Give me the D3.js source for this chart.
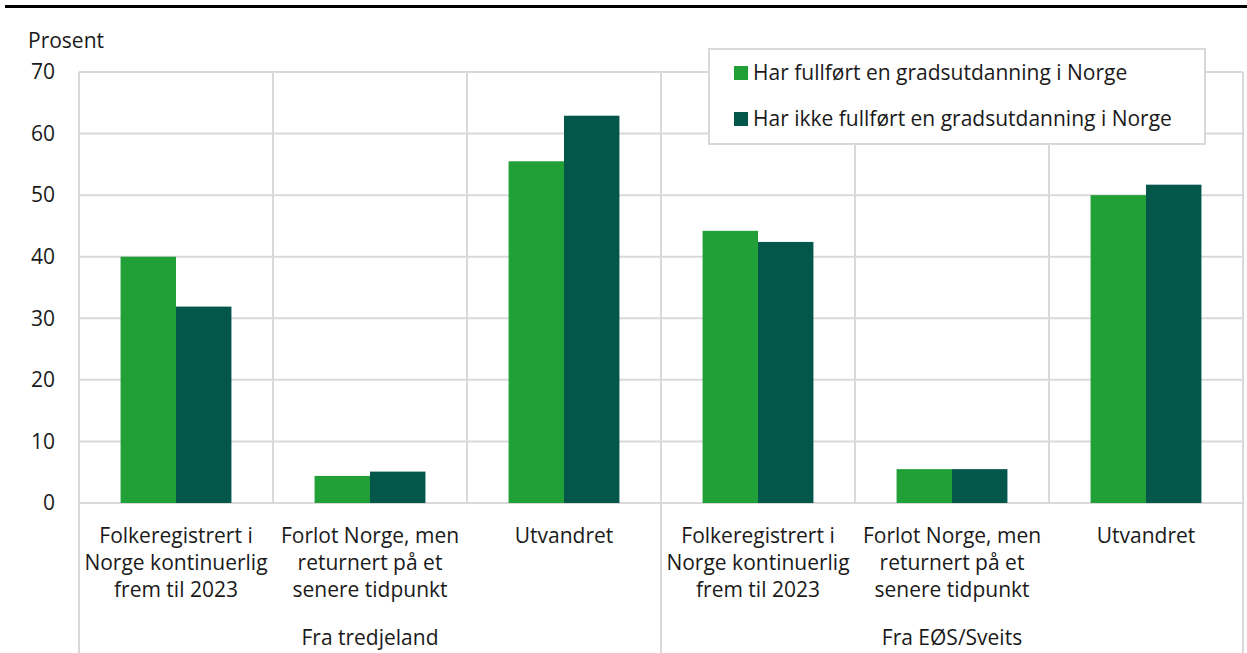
<!DOCTYPE html>
<html>
<head>
<meta charset="utf-8">
<script src="https://cdn.jsdelivr.net/npm/d3@7"></script>
<style>
  body { margin: 0; background: #fff; }
  text { font-family: "Open Sans", "Noto Sans", sans-serif; fill: #1a1a1a; }
</style>
</head>
<body>
<div id="chart"></div>
<script>
var svgWidth = 1247;
var svgHeight = 653;

// data
var groups = ["Fra tredjeland", "Fra EØS/Sveits"];
var categories = [
  ["Folkeregistrert i", "Norge kontinuerlig", "frem til 2023"],
  ["Forlot Norge, men", "returnert på et", "senere tidpunkt"],
  ["Utvandret"]
];
var seriesNames = ["Har fullført en gradsutdanning i Norge", "Har ikke fullført en gradsutdanning i Norge"];
var fullfort = [40.0, 4.4, 55.5, 44.2, 5.5, 50.0];
var ikkeFullfort = [31.9, 5.1, 62.9, 42.4, 5.5, 51.7];
var yTicks = [0, 10, 20, 30, 40, 50, 60, 70];

var colors = ["#21a038", "#03574a"];
var gridColor = "#d9d9d9";
var fontSize = "21px";

var plot = { left: 79, right: 1243, top: 72, bottom: 503 };

var svg = d3.select("#chart")
  .append("svg")
  .attr("width", svgWidth)
  .attr("height", svgHeight);

// top rule
svg.append("rect")
  .attr("x", 5).attr("y", 5)
  .attr("width", svgWidth - 5).attr("height", 3)
  .attr("fill", "#000");

// build rows: one per bar pair
var rows = [];
groups.forEach(function(g, gi) {
  categories.forEach(function(c, ci) {
    var i = gi * categories.length + ci;
    rows.push({ id: i, group: g, lines: c, values: [fullfort[i], ikkeFullfort[i]] });
  });
});

var x0 = d3.scaleBand()
  .domain(rows.map(d => d.id))
  .range([plot.left, plot.right])
  .padding(0);

var x1 = d3.scaleBand()
  .domain([0, 1])
  .range([0, x0.bandwidth()])
  .paddingInner(0)
  .paddingOuter(0.75);

var y = d3.scaleLinear()
  .domain([0, 70])
  .range([plot.bottom, plot.top]);

// horizontal gridlines
svg.append("g")
  .selectAll("line")
  .data(yTicks)
  .enter()
  .append("line")
  .attr("x1", plot.left)
  .attr("x2", plot.right)
  .attr("y1", d => y(d))
  .attr("y2", d => y(d))
  .attr("stroke", gridColor)
  .attr("stroke-width", 2);

// vertical gridlines at category boundaries
var bounds = rows.map(d => x0(d.id)).concat([plot.right]);
svg.append("g")
  .selectAll("line")
  .data(bounds)
  .enter()
  .append("line")
  .attr("x1", d => d)
  .attr("x2", d => d)
  .attr("y1", plot.top)
  .attr("y2", (d, i) => (i % categories.length === 0) ? svgHeight : plot.bottom)
  .attr("stroke", gridColor)
  .attr("stroke-width", 2);

// y tick labels
svg.append("g")
  .selectAll("text")
  .data(yTicks)
  .enter()
  .append("text")
  .attr("x", 55)
  .attr("y", d => y(d))
  .attr("dy", "0.35em")
  .attr("text-anchor", "end")
  .style("font-size", fontSize)
  .text(d => d);

svg.append("text")
  .attr("x", 28)
  .attr("y", 48)
  .style("font-size", fontSize)
  .text("Prosent");

// bars
var barGroups = svg.append("g")
  .selectAll("g")
  .data(rows)
  .enter()
  .append("g")
  .attr("transform", d => `translate(${x0(d.id)},0)`);

barGroups.selectAll("rect")
  .data(d => d.values.map((v, k) => ({ k: k, v: v })))
  .enter()
  .append("rect")
  .attr("x", d => x1(d.k))
  .attr("width", x1.bandwidth())
  .attr("y", d => y(d.v))
  .attr("height", d => y(0) - y(d.v))
  .attr("fill", d => colors[d.k]);

// category labels
var catLabels = svg.append("g")
  .selectAll("text")
  .data(rows)
  .enter()
  .append("text")
  .attr("x", d => x0(d.id) + x0.bandwidth() / 2)
  .attr("y", 543)
  .attr("text-anchor", "middle")
  .style("font-size", fontSize);

catLabels.selectAll("tspan")
  .data(d => d.lines)
  .enter()
  .append("tspan")
  .attr("x", function() { return d3.select(this.parentNode).attr("x"); })
  .attr("dy", (d, i) => i === 0 ? 0 : 27)
  .text(d => d);

// group labels
svg.append("g")
  .selectAll("text")
  .data(groups)
  .enter()
  .append("text")
  .attr("x", (d, gi) => {
    var a = x0(gi * categories.length);
    var b = a + x0.bandwidth() * categories.length;
    return (a + b) / 2;
  })
  .attr("y", 645)
  .attr("text-anchor", "middle")
  .style("font-size", fontSize)
  .text(d => d);

// legend
var legend = svg.append("g");
legend.append("rect")
  .attr("x", 709).attr("y", 49)
  .attr("width", 496).attr("height", 95)
  .attr("fill", "#fff")
  .attr("stroke", gridColor)
  .attr("stroke-width", 2);

var items = legend.selectAll("g.item")
  .data(seriesNames)
  .enter()
  .append("g")
  .attr("class", "item")
  .attr("transform", (d, i) => `translate(734, ${73 + i * 46})`);

items.append("rect")
  .attr("x", 0).attr("y", -7)
  .attr("width", 14).attr("height", 14)
  .attr("fill", (d, i) => colors[i]);

items.append("text")
  .attr("x", 19)
  .attr("y", 0)
  .attr("dy", "0.35em")
  .style("font-size", fontSize)
  .text(d => d);
</script>
</body>
</html>
